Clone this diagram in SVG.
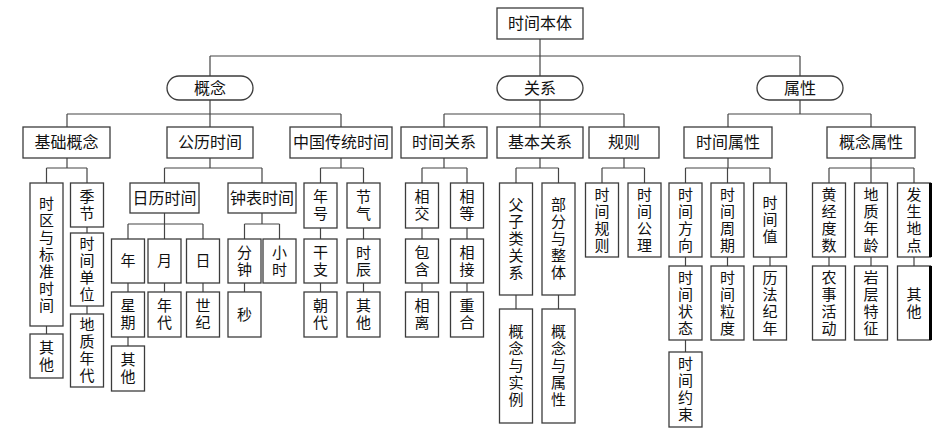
<svg xmlns="http://www.w3.org/2000/svg" width="940" height="438" viewBox="0 0 940 438">
<style>
.bx{fill:#fff;stroke:#3c3c3c;stroke-width:1.3}
.ln{fill:none;stroke:#454545;stroke-width:1.2}
.t{font-family:"Liberation Serif","Noto Sans CJK SC",serif;font-size:16px;fill:#111;text-anchor:middle;dominant-baseline:central}
.v{font-family:"Liberation Serif","Noto Sans CJK SC",serif;font-size:15px;fill:#111;text-anchor:middle;dominant-baseline:central}
.edge{stroke:#000;stroke-width:3}
</style>
<rect width="940" height="438" fill="#fff"/>
<g id="connectors" class="ln">
<path d="M540 39V76 M210 56H800 M210 56V76 M800 56V76"/>
<path d="M210 100V127 M67 114H341 M67 114V127 M341 114V127"/>
<path d="M540 100V127 M444 114H624 M444 114V127 M624 114V127"/>
<path d="M800 100V114 M728 114H871 M728 114V127 M871 114V127"/>
<path d="M67 158V168 M46.5 168H87 M46.5 168V183 M87 168V183 M46.5 326V334 M87 227V233 M87 306V314"/>
<path d="M210 158V168 M164.5 168H262 M164.5 168V183 M262 168V183"/>
<path d="M164.5 213V224 M128 224H203 M128 224V239 M164.5 224V239 M203 224V239 M128 283V292 M128 337V346 M164.5 283V292 M203 283V292"/>
<path d="M262 213V224 M244.5 224H279.5 M244.5 224V239 M279.5 224V239 M244.5 283V292"/>
<path d="M341 158V168 M320.5 168H363.5 M320.5 168V183 M363.5 168V183 M320.5 228V239 M320.5 283V292 M363.5 228V239 M363.5 283V292"/>
<path d="M444 158V168 M422 168H467 M422 168V183 M467 168V183 M422 228V239 M422 283V292 M467 228V239 M467 283V292"/>
<path d="M540 158V168 M516 168H558.5 M516 168V183 M558.5 168V183 M516 295V309 M558.5 295V309"/>
<path d="M624 158V168 M602 168H644.5 M602 168V183 M644.5 168V183"/>
<path d="M728 158V168 M685.5 168H770 M685.5 168V183 M727.5 168V183 M770 168V183 M685.5 257V266 M685.5 340V352 M727.5 257V266 M770 257V266"/>
<path d="M871 158V168 M829 168H914 M829 168V183 M871 168V183 M914 168V183 M829 257V266 M871 257V266 M914 257V266"/>
</g>
<g id="root"><rect class="bx" x="497" y="8" width="86" height="31"/><text class="t" x="540" y="23.5">时间本体</text></g>
<g id="gainian"><rect class="bx" x="167" y="76" width="86" height="24" rx="12"/><text class="t" x="210" y="88">概念</text></g>
<g id="guanxi"><rect class="bx" x="497" y="76" width="86" height="24" rx="12"/><text class="t" x="540" y="88">关系</text></g>
<g id="shuxing"><rect class="bx" x="757" y="76" width="86" height="24" rx="12"/><text class="t" x="800" y="88">属性</text></g>
<g id="jichugainian"><rect class="bx" x="23" y="127" width="87" height="31"/><text class="t" x="66.5" y="142.5">基础概念</text></g>
<g id="gonglishijian"><rect class="bx" x="167" y="127" width="86" height="31"/><text class="t" x="210" y="142.5">公历时间</text></g>
<g id="zhongguochuantong"><rect class="bx" x="290" y="127" width="102" height="31"/><text class="t" x="341" y="142.5">中国传统时间</text></g>
<g id="shijianguanxi"><rect class="bx" x="401" y="127" width="86" height="31"/><text class="t" x="444" y="142.5">时间关系</text></g>
<g id="jibenguanxi"><rect class="bx" x="497" y="127" width="86" height="31"/><text class="t" x="540" y="142.5">基本关系</text></g>
<g id="guize"><rect class="bx" x="589" y="127" width="70" height="31"/><text class="t" x="624" y="142.5">规则</text></g>
<g id="shijianshuxing"><rect class="bx" x="684" y="127" width="88" height="31"/><text class="t" x="728" y="142.5">时间属性</text></g>
<g id="gainianshuxing"><rect class="bx" x="827" y="127" width="88" height="31"/><text class="t" x="871" y="142.5">概念属性</text></g>
<g id="rilishijian"><rect class="bx" x="130" y="183" width="69" height="30"/><text class="t" x="164.5" y="198">日历时间</text></g>
<g id="zhongbiaoshijian"><rect class="bx" x="228" y="183" width="68" height="30"/><text class="t" x="262" y="198">钟表时间</text></g>
<g id="shiqu"><rect class="bx" x="30" y="183" width="33" height="143"/><text class="v"><tspan x="46.5" y="203.5">时</tspan><tspan x="46.5" y="220.5">区</tspan><tspan x="46.5" y="237.5">与</tspan><tspan x="46.5" y="254.5">标</tspan><tspan x="46.5" y="271.5">准</tspan><tspan x="46.5" y="288.5">时</tspan><tspan x="46.5" y="305.5">间</tspan></text></g>
<g id="qita1"><rect class="bx" x="30" y="334" width="33" height="44"/><text class="v"><tspan x="46.5" y="347.5">其</tspan><tspan x="46.5" y="364.5">他</tspan></text></g>
<g id="jijie"><rect class="bx" x="70.5" y="183" width="33" height="44"/><text class="v"><tspan x="87" y="196.5">季</tspan><tspan x="87" y="213.5">节</tspan></text></g>
<g id="shijiandanwei"><rect class="bx" x="70.5" y="233" width="33" height="73"/><text class="v"><tspan x="87" y="244">时</tspan><tspan x="87" y="261">间</tspan><tspan x="87" y="278">单</tspan><tspan x="87" y="295">位</tspan></text></g>
<g id="dizhiniandai"><rect class="bx" x="70.5" y="314" width="33" height="73"/><text class="v"><tspan x="87" y="325">地</tspan><tspan x="87" y="342">质</tspan><tspan x="87" y="359">年</tspan><tspan x="87" y="376">代</tspan></text></g>
<g id="nian"><rect class="bx" x="111.5" y="239" width="33" height="44"/><text class="v" x="128" y="261">年</text></g>
<g id="xingqi"><rect class="bx" x="111.5" y="292" width="33" height="45"/><text class="v"><tspan x="128" y="306">星</tspan><tspan x="128" y="323">期</tspan></text></g>
<g id="qita2"><rect class="bx" x="111.5" y="346" width="33" height="45"/><text class="v"><tspan x="128" y="360">其</tspan><tspan x="128" y="377">他</tspan></text></g>
<g id="yue"><rect class="bx" x="148" y="239" width="33" height="44"/><text class="v" x="164.5" y="261">月</text></g>
<g id="niandai"><rect class="bx" x="148" y="292" width="33" height="45"/><text class="v"><tspan x="164.5" y="306">年</tspan><tspan x="164.5" y="323">代</tspan></text></g>
<g id="ri"><rect class="bx" x="186.5" y="239" width="33" height="44"/><text class="v" x="203" y="261">日</text></g>
<g id="shiji"><rect class="bx" x="186.5" y="292" width="33" height="45"/><text class="v"><tspan x="203" y="306">世</tspan><tspan x="203" y="323">纪</tspan></text></g>
<g id="fenzhong"><rect class="bx" x="228" y="239" width="33" height="44"/><text class="v"><tspan x="244.5" y="252.5">分</tspan><tspan x="244.5" y="269.5">钟</tspan></text></g>
<g id="miao"><rect class="bx" x="228" y="292" width="33" height="45"/><text class="v" x="244.5" y="314.5">秒</text></g>
<g id="xiaoshi"><rect class="bx" x="263" y="239" width="33" height="44"/><text class="v"><tspan x="279.5" y="252.5">小</tspan><tspan x="279.5" y="269.5">时</tspan></text></g>
<g id="nianhao"><rect class="bx" x="304" y="183" width="33" height="45"/><text class="v"><tspan x="320.5" y="197">年</tspan><tspan x="320.5" y="214">号</tspan></text></g>
<g id="ganzhi"><rect class="bx" x="304" y="239" width="33" height="44"/><text class="v"><tspan x="320.5" y="252.5">干</tspan><tspan x="320.5" y="269.5">支</tspan></text></g>
<g id="chaodai"><rect class="bx" x="304" y="292" width="33" height="45"/><text class="v"><tspan x="320.5" y="306">朝</tspan><tspan x="320.5" y="323">代</tspan></text></g>
<g id="jieqi"><rect class="bx" x="347" y="183" width="33" height="45"/><text class="v"><tspan x="363.5" y="197">节</tspan><tspan x="363.5" y="214">气</tspan></text></g>
<g id="shichen"><rect class="bx" x="347" y="239" width="33" height="44"/><text class="v"><tspan x="363.5" y="252.5">时</tspan><tspan x="363.5" y="269.5">辰</tspan></text></g>
<g id="qita3"><rect class="bx" x="347" y="292" width="33" height="45"/><text class="v"><tspan x="363.5" y="306">其</tspan><tspan x="363.5" y="323">他</tspan></text></g>
<g id="xiangjiao"><rect class="bx" x="405.5" y="183" width="33" height="45"/><text class="v"><tspan x="422" y="197">相</tspan><tspan x="422" y="214">交</tspan></text></g>
<g id="baohan"><rect class="bx" x="405.5" y="239" width="33" height="44"/><text class="v"><tspan x="422" y="252.5">包</tspan><tspan x="422" y="269.5">含</tspan></text></g>
<g id="xiangli"><rect class="bx" x="405.5" y="292" width="33" height="45"/><text class="v"><tspan x="422" y="306">相</tspan><tspan x="422" y="323">离</tspan></text></g>
<g id="xiangdeng"><rect class="bx" x="450.5" y="183" width="33" height="45"/><text class="v"><tspan x="467" y="197">相</tspan><tspan x="467" y="214">等</tspan></text></g>
<g id="xiangjie"><rect class="bx" x="450.5" y="239" width="33" height="44"/><text class="v"><tspan x="467" y="252.5">相</tspan><tspan x="467" y="269.5">接</tspan></text></g>
<g id="chonghe"><rect class="bx" x="450.5" y="292" width="33" height="45"/><text class="v"><tspan x="467" y="306">重</tspan><tspan x="467" y="323">合</tspan></text></g>
<g id="fuzilei"><rect class="bx" x="499.5" y="183" width="33" height="112"/><text class="v"><tspan x="516" y="205">父</tspan><tspan x="516" y="222">子</tspan><tspan x="516" y="239">类</tspan><tspan x="516" y="256">关</tspan><tspan x="516" y="273">系</tspan></text></g>
<g id="gainianyushili"><rect class="bx" x="499.5" y="309" width="33" height="114"/><text class="v"><tspan x="516" y="332">概</tspan><tspan x="516" y="349">念</tspan><tspan x="516" y="366">与</tspan><tspan x="516" y="383">实</tspan><tspan x="516" y="400">例</tspan></text></g>
<g id="bufenyuzhengti"><rect class="bx" x="542" y="183" width="33" height="112"/><text class="v"><tspan x="558.5" y="205">部</tspan><tspan x="558.5" y="222">分</tspan><tspan x="558.5" y="239">与</tspan><tspan x="558.5" y="256">整</tspan><tspan x="558.5" y="273">体</tspan></text></g>
<g id="gainianyushuxing"><rect class="bx" x="542" y="309" width="33" height="114"/><text class="v"><tspan x="558.5" y="332">概</tspan><tspan x="558.5" y="349">念</tspan><tspan x="558.5" y="366">与</tspan><tspan x="558.5" y="383">属</tspan><tspan x="558.5" y="400">性</tspan></text></g>
<g id="shijianguize"><rect class="bx" x="585.5" y="183" width="33" height="74"/><text class="v"><tspan x="602" y="194.5">时</tspan><tspan x="602" y="211.5">间</tspan><tspan x="602" y="228.5">规</tspan><tspan x="602" y="245.5">则</tspan></text></g>
<g id="shijiangongli"><rect class="bx" x="628" y="183" width="33" height="74"/><text class="v"><tspan x="644.5" y="194.5">时</tspan><tspan x="644.5" y="211.5">间</tspan><tspan x="644.5" y="228.5">公</tspan><tspan x="644.5" y="245.5">理</tspan></text></g>
<g id="shijianfangxiang"><rect class="bx" x="669" y="183" width="33" height="74"/><text class="v"><tspan x="685.5" y="194.5">时</tspan><tspan x="685.5" y="211.5">间</tspan><tspan x="685.5" y="228.5">方</tspan><tspan x="685.5" y="245.5">向</tspan></text></g>
<g id="shijianzhuangtai"><rect class="bx" x="669" y="266" width="33" height="74"/><text class="v"><tspan x="685.5" y="277.5">时</tspan><tspan x="685.5" y="294.5">间</tspan><tspan x="685.5" y="311.5">状</tspan><tspan x="685.5" y="328.5">态</tspan></text></g>
<g id="shijianyueshu"><rect class="bx" x="669" y="352" width="33" height="75"/><text class="v"><tspan x="685.5" y="364">时</tspan><tspan x="685.5" y="381">间</tspan><tspan x="685.5" y="398">约</tspan><tspan x="685.5" y="415">束</tspan></text></g>
<g id="shijianzhouqi"><rect class="bx" x="711" y="183" width="33" height="74"/><text class="v"><tspan x="727.5" y="194.5">时</tspan><tspan x="727.5" y="211.5">间</tspan><tspan x="727.5" y="228.5">周</tspan><tspan x="727.5" y="245.5">期</tspan></text></g>
<g id="shijianlidu"><rect class="bx" x="711" y="266" width="33" height="74"/><text class="v"><tspan x="727.5" y="277.5">时</tspan><tspan x="727.5" y="294.5">间</tspan><tspan x="727.5" y="311.5">粒</tspan><tspan x="727.5" y="328.5">度</tspan></text></g>
<g id="shijianzhi"><rect class="bx" x="753.5" y="183" width="33" height="74"/><text class="v"><tspan x="770" y="203">时</tspan><tspan x="770" y="220">间</tspan><tspan x="770" y="237">值</tspan></text></g>
<g id="lifajinian"><rect class="bx" x="753.5" y="266" width="33" height="74"/><text class="v"><tspan x="770" y="277.5">历</tspan><tspan x="770" y="294.5">法</tspan><tspan x="770" y="311.5">纪</tspan><tspan x="770" y="328.5">年</tspan></text></g>
<g id="huangjingdushu"><rect class="bx" x="812.5" y="183" width="33" height="74"/><text class="v"><tspan x="829" y="194.5">黄</tspan><tspan x="829" y="211.5">经</tspan><tspan x="829" y="228.5">度</tspan><tspan x="829" y="245.5">数</tspan></text></g>
<g id="nongshihuodong"><rect class="bx" x="812.5" y="266" width="33" height="74"/><text class="v"><tspan x="829" y="277.5">农</tspan><tspan x="829" y="294.5">事</tspan><tspan x="829" y="311.5">活</tspan><tspan x="829" y="328.5">动</tspan></text></g>
<g id="dizhinianling"><rect class="bx" x="854.5" y="183" width="33" height="74"/><text class="v"><tspan x="871" y="194.5">地</tspan><tspan x="871" y="211.5">质</tspan><tspan x="871" y="228.5">年</tspan><tspan x="871" y="245.5">龄</tspan></text></g>
<g id="yancengtezheng"><rect class="bx" x="854.5" y="266" width="33" height="74"/><text class="v"><tspan x="871" y="277.5">岩</tspan><tspan x="871" y="294.5">层</tspan><tspan x="871" y="311.5">特</tspan><tspan x="871" y="328.5">征</tspan></text></g>
<g id="fashengdidian"><rect class="bx" x="897.5" y="183" width="33" height="74"/><line class="edge" x1="930.5" y1="183" x2="930.5" y2="257"/><text class="v"><tspan x="914" y="194.5">发</tspan><tspan x="914" y="211.5">生</tspan><tspan x="914" y="228.5">地</tspan><tspan x="914" y="245.5">点</tspan></text></g>
<g id="qita4"><rect class="bx" x="897.5" y="266" width="33" height="74"/><line class="edge" x1="930.5" y1="266" x2="930.5" y2="340"/><text class="v"><tspan x="914" y="294.5">其</tspan><tspan x="914" y="311.5">他</tspan></text></g>
</svg>
